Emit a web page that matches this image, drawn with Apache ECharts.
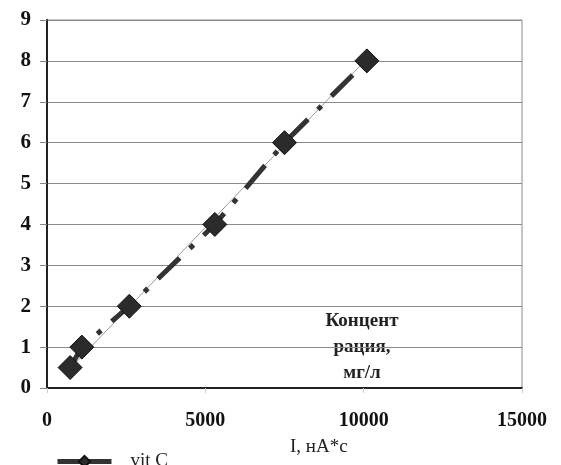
<!DOCTYPE html>
<html>
<head>
<meta charset="utf-8">
<script src="https://cdn.jsdelivr.net/npm/echarts@6/dist/echarts.min.js"></script>
<style>
	html, body {margin: 0; padding: 0; background: #fff;}
	#chart {width: 561px; height: 465px;}
</style>
</head>
<body>
<div id="chart"></div>
<script>
	// points
	var currentI = [730, 1100, 2600, 5300, 7500, 10100];
	var concentration = [0.5, 1, 2, 4, 6, 8];
	// thin trend line, two ends
	var trendI = [700, 10100];
	var trendC = [0.45, 8.05];

	var serif = '"Liberation Serif", "DejaVu Serif", serif';

	function pairs(xs, ys){
		return xs.map(function(x, i){ return [x, ys[i]]; });
	}

	var chart = echarts.init(document.getElementById('chart'));
	chart.setOption({
		animation: false,
		grid: {left: 47, right: 39, top: 20, bottom: 77, show: true, borderColor: '#8a8a8a', borderWidth: 1},
		xAxis: {
			type: 'value', min: 0, max: 15000, interval: 5000,
			axisLine: {show: true, lineStyle: {color: '#222', width: 2}},
			axisTick: {show: true, inside: false, length: 5, lineStyle: {color: '#ccc'}},
			splitLine: {show: false},
			axisLabel: {color: '#111', fontFamily: serif, fontWeight: 'bold', fontSize: 20, margin: 23,
				formatter: function(v){ return String(v); }}
		},
		yAxis: {
			type: 'value', min: 0, max: 9, interval: 1,
			axisLine: {show: true, lineStyle: {color: '#222', width: 2}},
			axisTick: {show: true, length: 7, lineStyle: {color: '#888'}},
			splitLine: {show: true, lineStyle: {color: '#8a8a8a', width: 1}},
			axisLabel: {color: '#111', fontFamily: serif, fontWeight: 'bold', fontSize: 21, margin: 16}
		},
		legend: {
			left: 50, top: 447, itemWidth: 54, itemHeight: 14, itemGap: 10,
			data: [{name: 'vit C', lineStyle: {type: 'solid', width: 5}}],
			textStyle: {fontFamily: serif, fontSize: 19, color: '#222', padding: [0, 0, 0, 14]}
		},
		graphic: [
			{type: 'text', x: 290, y: 438, style: {text: 'I, нА*с', font: '19px ' + serif, fill: '#222'}},
			{type: 'text', x: 362, y: 308, style: {text: 'Концент\nрация,\nмг/л', font: 'bold 19px ' + serif, fill: '#222', align: 'center', lineHeight: 26}}
		],
		series: [
			{
				name: 'trend', type: 'line', data: pairs(trendI, trendC), symbol: 'none',
				lineStyle: {color: '#999', width: 1}, z: 1, silent: true
			},
			{
				name: 'vit C', type: 'line', data: pairs(currentI, concentration),
				symbol: 'diamond', symbolSize: 24,
				itemStyle: {color: '#2b2b2b', borderColor: '#111', borderWidth: 1},
				lineStyle: {color: '#333', width: 5, type: [30, 14, 5, 14]}, z: 2
			}
		]
	});
</script>
</body>
</html>
